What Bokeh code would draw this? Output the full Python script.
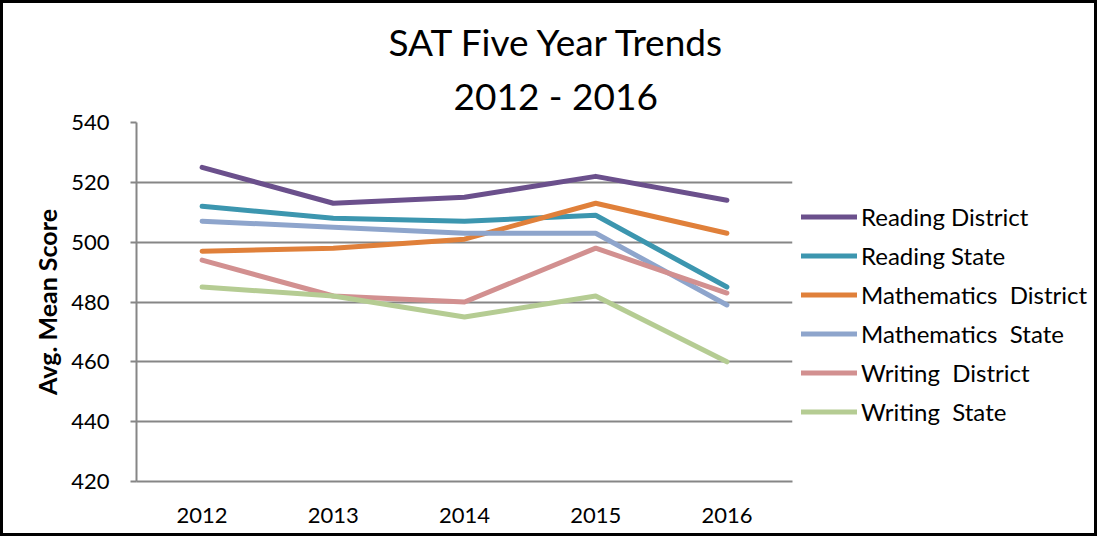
from bokeh.plotting import figure
from bokeh.layouts import row
from bokeh.models import Legend, LegendItem, Title, FixedTicker
from bokeh.embed import file_html
from bokeh.resources import INLINE

years = ["2012", "2013", "2014", "2015", "2016"]
reading_district = [525, 513, 515, 522, 514]
reading_state = [512, 508, 507, 509, 485]
math_district = [497, 498, 501, 513, 503]
math_state = [507, 505, 503, 503, 479]
writing_district = [494, 482, 480, 498, 483]
writing_state = [485, 482, 475, 482, 460]
y_ticks = [420, 440, 460, 480, 500, 520, 540]

series = [
    ("Reading District", reading_district, "#6B508C"),
    ("Reading State", reading_state, "#3C96AF"),
    ("Mathematics  District", math_district, "#E0803A"),
    ("Mathematics  State", math_state, "#8EA5CC"),
    ("Writing  District", writing_district, "#D29090"),
    ("Writing  State", writing_state, "#B5CC93"),
]

FONT = "Lato"

p = figure(x_range=years, y_range=(420, 540), width=792, height=530,
           output_backend="svg", toolbar_location=None,
           min_border_left=133, min_border_right=3,
           min_border_top=119, min_border_bottom=52)

for name, vals, col in series:
    p.line(years, vals, line_color=col, line_width=5, line_cap="round", line_join="round")

t2 = Title(text="2012 - 2016", align="left", offset=317,
           text_font=FONT, text_font_size="37px", text_font_style="normal",
           text_color="#000000", standoff=10)
t1 = Title(text="SAT Five Year Trends", align="left", offset=252,
           text_font=FONT, text_font_size="37px", text_font_style="normal",
           text_color="#000000", standoff=3)
p.add_layout(t2, "above")
p.add_layout(t1, "above")

p.outline_line_color = None
p.xgrid.grid_line_color = None
p.ygrid.grid_line_color = "#868686"
p.ygrid.grid_line_width = 2
p.yaxis.ticker = FixedTicker(ticks=y_ticks)

for ax in (p.xaxis, p.yaxis):
    ax.axis_line_color = "#868686"
    ax.axis_line_width = 2
    ax.major_label_text_font = FONT
    ax.major_label_text_font_size = "22px"
    ax.major_label_text_color = "#000000"
    ax.minor_tick_line_color = None

p.xaxis.major_tick_line_color = None
p.xaxis.major_label_standoff = 20
p.yaxis.major_tick_line_color = "#868686"
p.yaxis.major_tick_line_width = 2
p.yaxis.major_tick_in = 0
p.yaxis.major_tick_out = 6
p.yaxis.major_label_standoff = 21
p.yaxis.axis_label = "Avg. Mean Score"
p.yaxis.axis_label_text_font = FONT
p.yaxis.axis_label_text_font_size = "25px"
p.yaxis.axis_label_text_font_style = "bold"
p.yaxis.axis_label_text_color = "#000000"
p.yaxis.axis_label_standoff = 6
p.x_range.range_padding = 0

# legend panel: same series drawn off-view so only the legend shows
q = figure(width=299, height=530, x_range=years, y_range=(0, 1),
           output_backend="svg", toolbar_location=None,
           x_axis_type=None, y_axis_type=None,
           min_border_left=0, min_border_right=0, min_border_top=0, min_border_bottom=0)
q.outline_line_color = None
q.xgrid.grid_line_color = None
q.ygrid.grid_line_color = None

items = []
for name, vals, col in series:
    r = q.line(years, vals, line_color=col, line_width=5, line_cap="round")
    items.append(LegendItem(label=name, renderers=[r]))

legend = Legend(items=items, location=(6, 55), orientation="vertical",
                label_text_font=FONT, label_text_font_size="24px", label_text_color="#000000",
                glyph_width=56, glyph_height=29, label_height=29, label_standoff=4,
                spacing=10, padding=0, margin=0, border_line_color=None,
                background_fill_alpha=0)
q.add_layout(legend, "center")

layout = row(p, q, width=1097, height=536, styles={"border": "3px solid black"})

open("out.html", "w").write(file_html(layout, INLINE))
